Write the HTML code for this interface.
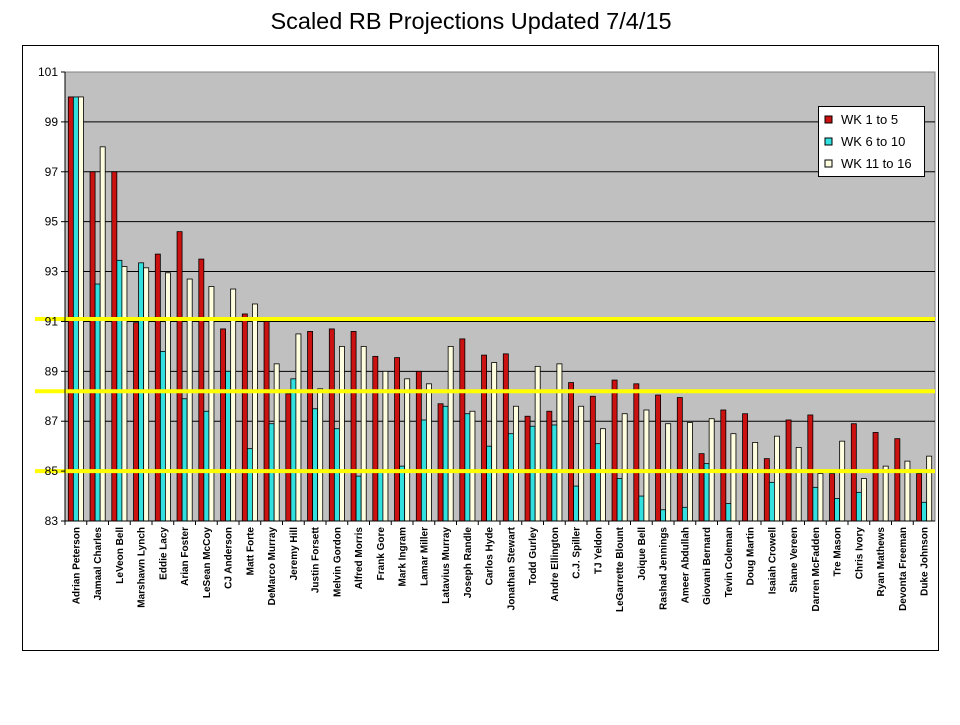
<!DOCTYPE html>
<html><head><meta charset="utf-8"><style>
body{margin:0;background:#fff;font-family:"Liberation Sans",Arial,sans-serif}
</style></head><body>
<svg width="960" height="720" xmlns="http://www.w3.org/2000/svg">
<text x="471" y="29" text-anchor="middle" font-size="23.5" font-family="Liberation Sans, sans-serif">Scaled RB Projections Updated 7/4/15</text>
<rect x="22.5" y="45.5" width="916" height="605" fill="none" stroke="#000"/>
<rect x="65" y="72" width="870" height="449" fill="#c0c0c0" stroke="#808080"/>
<g id="grid"></g><g id="bars"></g><g id="refs"></g><g id="axes"></g>
<g>
<rect x="818.5" y="106.5" width="106" height="70" fill="#fff" stroke="#000"/>
<rect x="825" y="116" width="7" height="7" fill="#cc1111" stroke="#000"/>
<text x="841" y="124" font-size="13">WK 1 to 5</text>
<rect x="825" y="138" width="7" height="7" fill="#33e0e0" stroke="#000"/>
<text x="841" y="146" font-size="13">WK 6 to 10</text>
<rect x="825" y="160" width="7" height="7" fill="#ffffe0" stroke="#000"/>
<text x="841" y="168" font-size="13">WK 11 to 16</text>
</g>
</svg>
<script>
const players=["Adrian Peterson","Jamaal Charles","LeVeon Bell","Marshawn Lynch","Eddie Lacy","Arian Foster","LeSean McCoy","CJ Anderson","Matt Forte","DeMarco Murray","Jeremy Hill","Justin Forsett","Melvin Gordon","Alfred Morris","Frank Gore","Mark Ingram","Lamar Miller","Latavius Murray","Joseph Randle","Carlos Hyde","Jonathan Stewart","Todd Gurley","Andre Ellington","C.J. Spiller","TJ Yeldon","LeGarrette Blount","Joique Bell","Rashad Jennings","Ameer Abdullah","Giovani Bernard","Tevin Coleman","Doug Martin","Isaiah Crowell","Shane Vereen","Darren McFadden","Tre Mason","Chris Ivory","Ryan Mathews","Devonta Freeman","Duke Johnson"];
const wk1=[100,97,97,90.95,93.7,94.6,93.5,90.7,91.3,91,88.1,90.6,90.7,90.6,89.6,89.55,89,87.7,90.3,89.65,89.7,87.2,87.4,88.55,88,88.65,88.5,88.05,87.95,85.7,87.45,87.3,85.5,87.05,87.25,84.9,86.9,86.55,86.3,84.9];
const wk6=[100,92.5,93.45,93.35,89.8,87.9,87.4,89,85.9,86.9,88.7,87.5,86.7,84.8,85,85.2,87.05,87.6,87.3,86,86.5,86.8,86.85,84.4,86.1,84.7,84,83.45,83.55,85.3,83.7,83,84.55,83,84.35,83.9,84.15,83,83,83.75];
const wk11=[100,98,93.2,93.15,92.95,92.7,92.4,92.3,91.7,89.3,90.5,88.3,90,90,89,88.7,88.5,90,87.4,89.35,87.6,89.2,89.3,87.6,86.7,87.3,87.45,86.9,86.95,87.1,86.5,86.15,86.4,85.95,84.9,86.2,84.7,85.2,85.4,85.6];
const yTicks=[83,85,87,89,91,93,95,97,99,101];
const refLines=[91.1,88.2,85.0];
const NS="http://www.w3.org/2000/svg";
const X0=65,X1=935,Y0=72,Y1=521,YMIN=83,YMAX=101;
const y=v=>Y1-(v-YMIN)/(YMAX-YMIN)*(Y1-Y0);
const cw=(X1-X0)/players.length;
const x=i=>X0+i*cw;
function mk(t,a,p){const e=document.createElementNS(NS,t);for(const k in a)e.setAttribute(k,a[k]);p.appendChild(e);return e;}
const grid=document.getElementById('grid'),bars=document.getElementById('bars'),refs=document.getElementById('refs'),axes=document.getElementById('axes');
yTicks.forEach(t=>{
 if(t>YMIN&&t<YMAX){const g=mk('line',{x1:X0,x2:X1,y1:y(t),y2:y(t),stroke:'#000','stroke-width':1},grid);
 
 }
 const tk=mk('line',{x1:X0-4,x2:X0,y1:y(t),y2:y(t),stroke:'#000'},axes);
 
 
 const tx=mk('text',{x:X0-7,y:y(t)+4,'text-anchor':'end','font-size':12},axes);
 tx.textContent=t;
 
 
});
const series=[[wk1,'#cc1111'],[wk6,'#33e0e0'],[wk11,'#ffffe0']];
const bw=5.05,off=3.3;
players.forEach((p,i)=>{
 series.forEach((s,j)=>{
  const v=s[0][i];const top=y(v);
  if(Y1-top>0.5){const r=mk('rect',{x:x(i)+off+j*bw,y:top,width:bw,height:Y1-top,fill:s[1],stroke:'#000','stroke-width':0.8},bars);
  
  }
 });
 const tk=mk('line',{x1:x(i),x2:x(i),y1:Y1,y2:Y1+4,stroke:'#000'},axes);
 
 
 const cx=x(i)+cw/2+3.5;
 const t=mk('text',{x:cx,y:527,'text-anchor':'end','font-size':10,'font-weight':'bold',transform:`rotate(-90 ${cx} 527)`},axes);
 t.textContent=p;
 
 
});
mk('line',{x1:X0,x2:X0,y1:Y0,y2:Y1,stroke:'#000'},axes);
mk('line',{x1:X0,x2:X1,y1:Y1,y2:Y1,stroke:'#000'},axes);
refLines.forEach(v=>{
 const l=mk('line',{x1:X0-30,x2:X1,y1:y(v),y2:y(v),stroke:'#ffff00','stroke-width':4},refs);
 
 
});
</script>
</body></html>
